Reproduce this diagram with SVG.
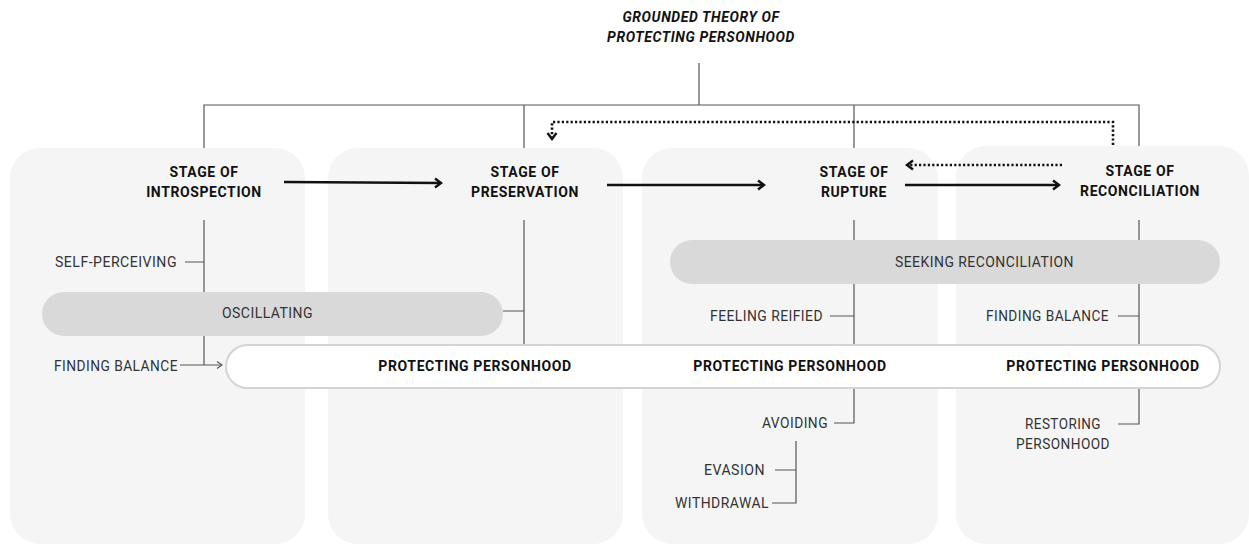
<svg xmlns="http://www.w3.org/2000/svg" width="1249" height="545" viewBox="0 0 1249 545">
<defs>
<style>
.panel{fill:#f5f5f5}
.ln{stroke:#555;stroke-width:1.2;fill:none}
.arr{stroke:#111;stroke-width:2.6;fill:none}
.dot{stroke:#111;stroke-width:2.6;fill:none;stroke-dasharray:2.2 2.2}
.t{font-family:Roboto,"Liberation Sans",sans-serif;fill:#111;font-weight:bold;font-size:14px;letter-spacing:0.6px}
.lab{font-family:Roboto,"Liberation Sans",sans-serif;fill:#333;font-size:15px;letter-spacing:0.5px}
.pill{fill:#d9d9d9}
</style>
<marker id="ah" markerWidth="12" markerHeight="12" refX="9" refY="6" orient="auto" markerUnits="userSpaceOnUse">
<path d="M3,1.5 L9,6 L3,10.5" fill="none" stroke="#111" stroke-width="2.4"/>
</marker>
<marker id="ahs" markerWidth="10" markerHeight="10" refX="8" refY="5" orient="auto" markerUnits="userSpaceOnUse">
<path d="M3,1.5 L8,5 L3,8.5" fill="none" stroke="#555" stroke-width="1.1"/>
</marker>
</defs>
<rect width="1249" height="545" fill="#fff"/>
<g id="panels">
<rect class="panel" x="10" y="148" width="295" height="396" rx="30"/>
<rect class="panel" x="328" y="148" width="295" height="396" rx="30"/>
<rect class="panel" x="642" y="148" width="296" height="396" rx="30"/>
<rect class="panel" x="956" y="146" width="293" height="398" rx="30"/>
</g>
<g id="title">
<text class="t" x="701" y="22" text-anchor="middle" font-style="italic" font-size="14.4">GROUNDED THEORY OF</text>
<text class="t" x="701" y="42" text-anchor="middle" font-style="italic" font-size="14.4">PROTECTING PERSONHOOD</text>
</g>
<g id="connectors">
<path class="ln" d="M699,63 V105 M204,148 V105 H1139 V146 M524,105 V148 M854,105 V148"/>
<path class="dot" d="M1113,145 V122 H552 V139" marker-end="url(#ah)"/>
<path class="arr" d="M284,182 L441,183" marker-end="url(#ah)"/>
<path class="arr" d="M607,185 L764,185" marker-end="url(#ah)"/>
<path class="arr" d="M905,185 L1059,185" marker-end="url(#ah)"/>
<path class="dot" d="M1062,165 L907,165" marker-end="url(#ah)"/>
<path class="ln" d="M204,220 V365 M185,262 H204"/>
<path class="ln" d="M180,365 H222" marker-end="url(#ahs)"/>
<path class="ln" d="M524,220 V345 M503,311 H524"/>
<path class="ln" d="M854,220 V240 M854,284 V345 M830,316 H854 M854,388 V423 H834"/>
<path class="ln" d="M796,441 V503 H772 M775,470 H796"/>
<path class="ln" d="M1139,220 V240 M1139,284 V345 M1118,316 H1139 M1139,388 V424 H1118"/>
</g>
<g id="introspection">
<text class="t" x="204" y="177" text-anchor="middle">STAGE OF</text>
<text class="t" x="204" y="197" text-anchor="middle">INTROSPECTION</text>
</g>
<g id="preservation">
<text class="t" x="525" y="177" text-anchor="middle">STAGE OF</text>
<text class="t" x="525" y="197" text-anchor="middle">PRESERVATION</text>
</g>
<g id="rupture">
<text class="t" x="854" y="177" text-anchor="middle">STAGE OF</text>
<text class="t" x="854" y="197" text-anchor="middle">RUPTURE</text>
</g>
<g id="reconciliation">
<text class="t" x="1140" y="176" text-anchor="middle">STAGE OF</text>
<text class="t" x="1140" y="196" text-anchor="middle">RECONCILIATION</text>
</g>
<g id="self-perceiving"><text class="lab" x="55" y="267" textLength="122" lengthAdjust="spacingAndGlyphs">SELF-PERCEIVING</text></g>
<g id="oscillating">
<rect class="pill" x="42" y="292" width="461" height="44" rx="22"/>
<text class="lab" x="222" y="317.5" textLength="91" lengthAdjust="spacingAndGlyphs">OSCILLATING</text>
</g>
<g id="finding-balance-1"><text class="lab" x="54" y="370.5" textLength="124" lengthAdjust="spacingAndGlyphs">FINDING BALANCE</text></g>
<g id="protecting-personhood">
<rect x="226" y="345" width="994" height="43" rx="21.5" fill="#fff" stroke="#d4d4d4" stroke-width="2"/>
<text class="t" x="475" y="371" text-anchor="middle">PROTECTING PERSONHOOD</text>
<text class="t" x="790" y="371" text-anchor="middle">PROTECTING PERSONHOOD</text>
<text class="t" x="1103" y="371" text-anchor="middle">PROTECTING PERSONHOOD</text>
</g>
<g id="seeking-reconciliation">
<rect class="pill" x="670" y="240" width="550" height="44" rx="22"/>
<text class="lab" x="895" y="267" textLength="179" lengthAdjust="spacingAndGlyphs">SEEKING RECONCILIATION</text>
</g>
<g id="feeling-reified"><text class="lab" x="710" y="321" textLength="113" lengthAdjust="spacingAndGlyphs">FEELING REIFIED</text></g>
<g id="finding-balance-2"><text class="lab" x="986" y="321" textLength="123" lengthAdjust="spacingAndGlyphs">FINDING BALANCE</text></g>
<g id="avoiding"><text class="lab" x="762" y="428" textLength="66" lengthAdjust="spacingAndGlyphs">AVOIDING</text></g>
<g id="evasion"><text class="lab" x="704" y="475" textLength="61" lengthAdjust="spacingAndGlyphs">EVASION</text></g>
<g id="withdrawal"><text class="lab" x="675" y="508" textLength="94" lengthAdjust="spacingAndGlyphs">WITHDRAWAL</text></g>
<g id="restoring-personhood">
<text class="lab" x="1025" y="429" textLength="76" lengthAdjust="spacingAndGlyphs">RESTORING</text>
<text class="lab" x="1016" y="449" textLength="94" lengthAdjust="spacingAndGlyphs">PERSONHOOD</text>
</g>
</svg>
